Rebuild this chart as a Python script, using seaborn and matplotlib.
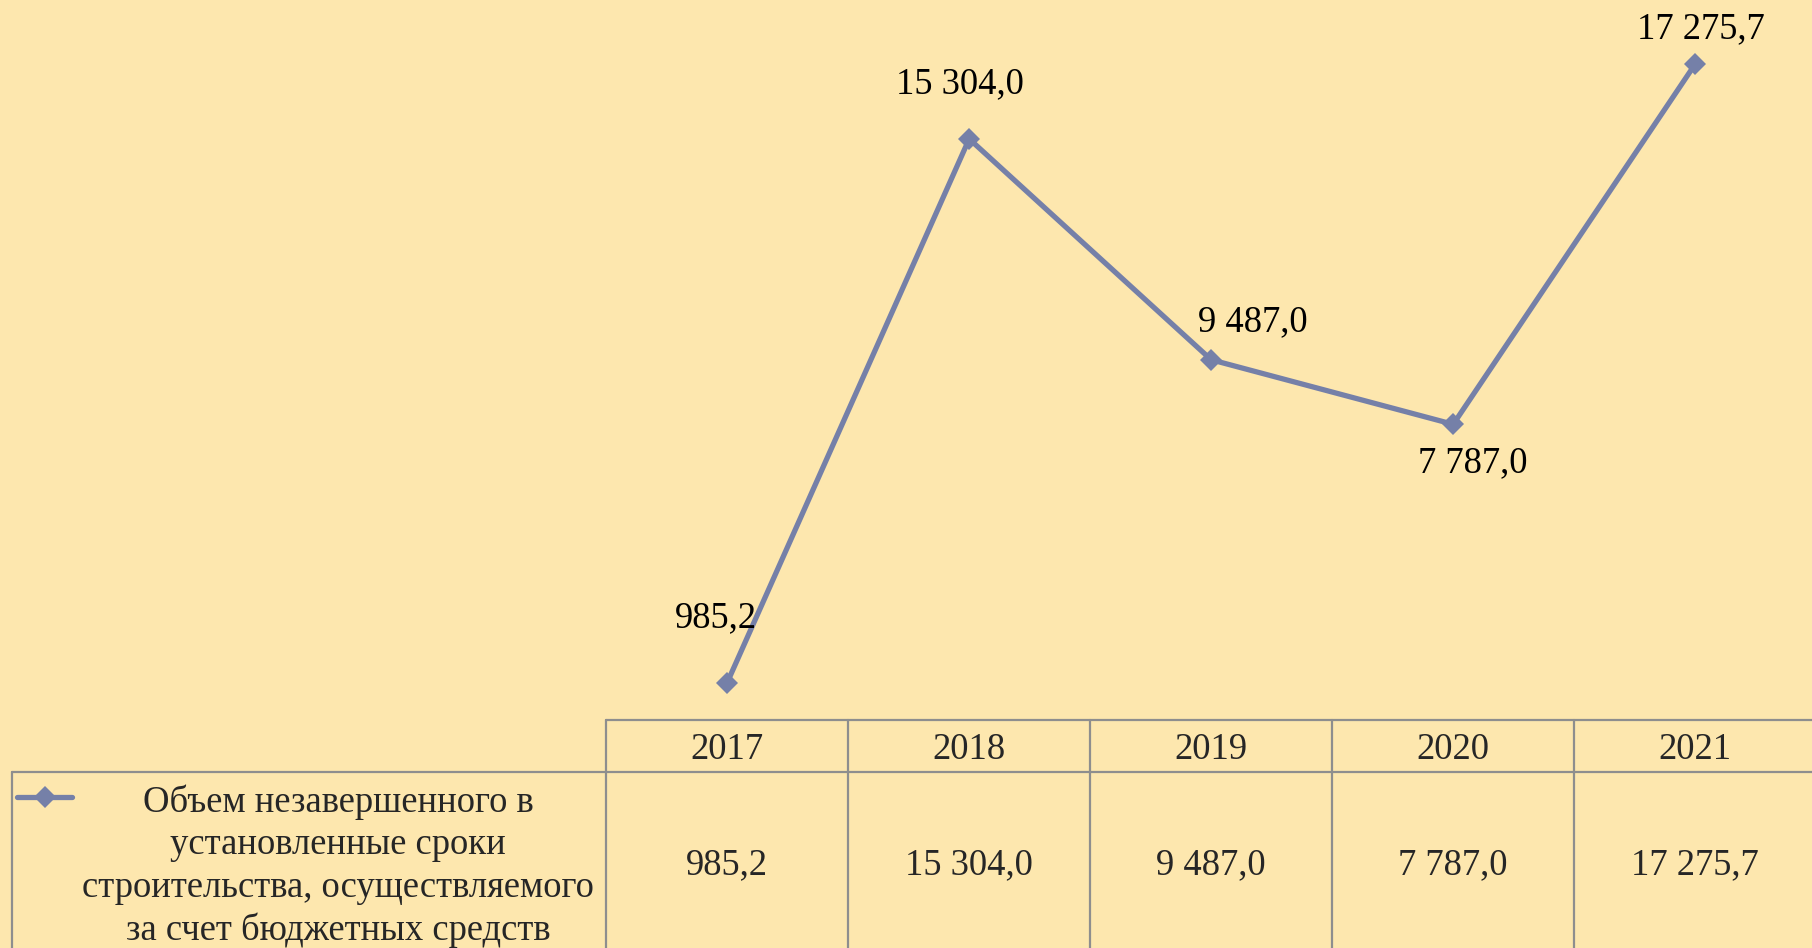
import matplotlib.pyplot as plt
import matplotlib.lines as mlines
import numpy as np
import pandas as pd
import seaborn as sns

# данные
years = ['2017', '2018', '2019', '2020', '2021']
values = [985.2, 15304.0, 9487.0, 7787.0, 17275.7]
seriesName = ('Объем незавершенного в\nустановленные сроки\n'
              'строительства, осуществляемого\nза счет бюджетных средств')
# смещения подписей (pt)
labelOffsets = [(-8, 46.5), (-7, 39.5), (30, 27.5), (14, -28), (4, 25.5)]

bg = '#FDE7AE'
lineColor = '#7580A8'
gridColor = '#8E8E8E'
fontSize = 26.4

sns.set_style('white')
plt.rcParams['font.family'] = ['Liberation Serif', 'DejaVu Serif']

df = pd.DataFrame({'pos': np.arange(len(years)), 'value': values})

fig = plt.figure(figsize=(18.12, 9.48), dpi=100, facecolor=bg)

# ось графика
ax = fig.add_axes([606.2 / 1812, 228 / 948, 1210 / 1812, 720 / 948])
ax.set_facecolor('none')
sns.lineplot(data=df, x='pos', y='value', ax=ax, color=lineColor, linewidth=3.8,
             marker='D', markersize=11, markeredgewidth=0, clip_on=False)
ax.set_xlim(-0.5, 4.5)
ax.set_ylim(0, 18962)
ax.axis('off')

for i, v in enumerate(values):
    txt = f'{v:,.1f}'.replace(',', ' ').replace('.', ',')
    ax.annotate(txt, (i, v), xytext=labelOffsets[i], textcoords='offset points',
                ha='center', va='center', fontsize=fontSize, color='black')

# таблица данных
tax = fig.add_axes([0, 0, 1, 228 / 948])
tax.set_facecolor('none')
tax.set_xlim(-3.005, 4.483)
tax.set_ylim(0, 1)
tax.axis('off')
hdrBottom = 1 - 52 / 228
legLeft = -2.957
n = len(years)
lwGrid = 1.6

tax.plot([-0.5, n], [1, 1], color=gridColor, lw=lwGrid, clip_on=False)
tax.plot([legLeft, n], [hdrBottom, hdrBottom], color=gridColor, lw=lwGrid, clip_on=False)
tax.plot([legLeft, legLeft], [hdrBottom, -0.1], color=gridColor, lw=lwGrid, clip_on=False)
for i in range(n + 1):
    tax.plot([i - 0.5, i - 0.5], [1, -0.1], color=gridColor, lw=lwGrid, clip_on=False)

for i, (yr, v) in enumerate(zip(years, values)):
    tax.text(i, (1 + hdrBottom) / 2 - 0.015, yr, ha='center', va='center', fontsize=fontSize)
    txt = f'{v:,.1f}'.replace(',', ' ').replace('.', ',')
    tax.text(i, 0.363, txt, ha='center', va='center', fontsize=fontSize)

# легенда в таблице
key = mlines.Line2D([-2.935, -2.707], [0.662, 0.662], color=lineColor, lw=3.8)
tax.add_line(key)
tax.plot([-2.821], [0.662], marker='D', markersize=11, color=lineColor, markeredgewidth=0)
tax.text(-1.608, 0.358, seriesName, ha='center', va='center', multialignment='center',
         fontsize=fontSize, linespacing=1.29)

fig.savefig('out.png', dpi=100, facecolor=bg)
